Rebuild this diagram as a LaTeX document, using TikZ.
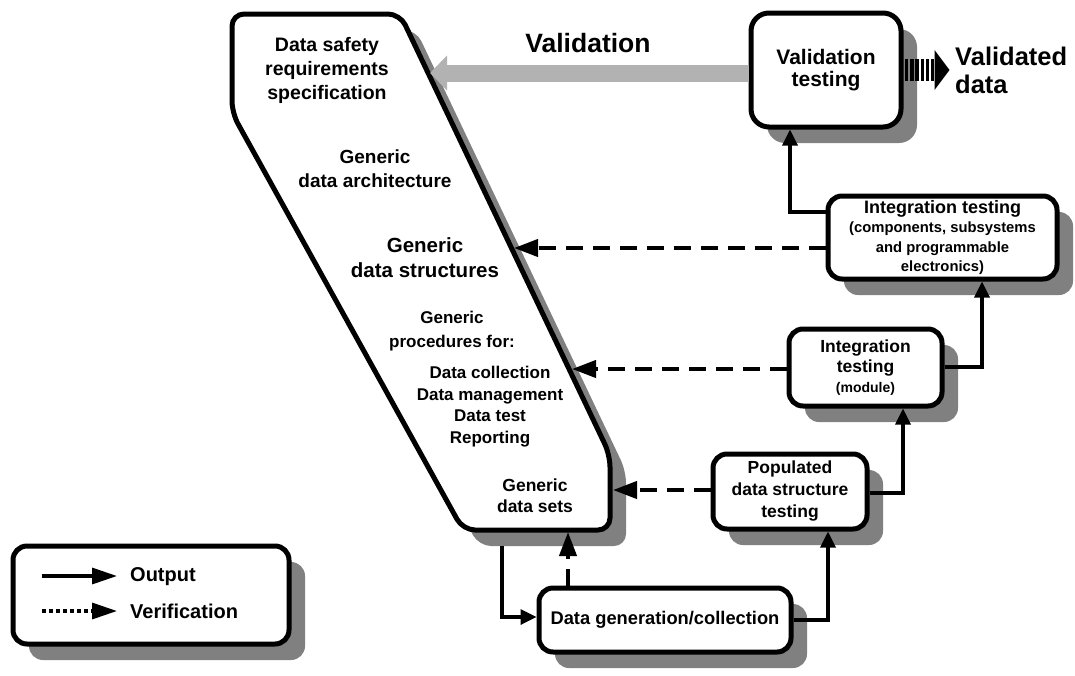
\documentclass[tikz,border=0pt]{standalone}
\usepackage{fontspec}
\setmainfont{Liberation Sans}
\usetikzlibrary{arrows.meta,shadows,calc}
\definecolor{shd}{RGB}{128,128,128}
\definecolor{valgray}{RGB}{178,178,178}
\newcommand{\myfs}[2]{\fontsize{#1}{#2}\selectfont\bfseries}
\begin{document}
\begin{tikzpicture}[x=1pt,y=-1pt,
 box/.style={draw,line width=5pt,fill=white,rounded corners=14pt,align=center,inner sep=0pt,
   drop shadow={shadow xshift=16pt,shadow yshift=-16pt,fill=shd,opacity=1,draw=none}},
 txt/.style={align=center,inner sep=0pt},
 outarrow/.style={line width=3.3pt,-{Triangle[length=16pt,width=15pt]}},
 verarrow/.style={line width=4pt,dash pattern=on 17pt off 10pt,-{Triangle[length=24pt,width=17pt]}},
 legarrow/.style={line width=3.3pt,-{Triangle[length=25pt,width=16pt]}},
]
\useasboundingbox (0,0) rectangle (1075,675);

% main specification shape
\fill[shd,rounded corners=12pt,shift={(16,16)}] (316,14) -- (400,14) -- (610,455) -- (610,530) -- (463,530) -- (232,113) -- (232,14) -- cycle;
\draw[line width=5pt,fill=white,rounded corners=12pt] (316,14) -- (400,14) -- (610,455) -- (610,530) -- (463,530) -- (232,113) -- (232,14) -- cycle;

\node[txt,font=\myfs{19.5}{24}] (t1) at (327,70) {Data safety\\requirements\\specification};
\node[txt,font=\myfs{19}{24}] (t2) at (375,168.5) {Generic\\data architecture};
\node[txt,font=\myfs{20.5}{25}] (t3) at (425,258) {Generic\\data structures};
\node[txt,font=\myfs{17}{24}] (t4) at (452,331) {Generic\\procedures for:};
\node[txt,font=\myfs{17}{21.7}] (t5) at (490,406.5) {Data collection\\Data management\\Data test\\Reporting};
\node[txt,font=\myfs{17.5}{21}] (t6) at (535,496) {Generic\\data sets};

% points on the specification shape
\coordinate (vtip) at (430,73);
\coordinate (e1) at (514,248);
\coordinate (e2) at (572,369);
\coordinate (e3) at (613,490);
\coordinate (pb) at (502,546);
\coordinate (pb2) at (568,532);

% boxes
\node[box,rounded corners=18pt,minimum width=150pt,minimum height=114pt,font=\myfs{21}{22}] (vt) at (826,70) {Validation\\testing};
\node[box,minimum width=229pt,minimum height=83pt,font=\myfs{14.8}{19.5}] (ic) at (942.5,237.5) {{\myfs{18}{19.5}Integration testing}\\(components, subsystems\\and programmable\\electronics)};
\node[box,minimum width=153pt,minimum height=77pt,font=\myfs{17.5}{20}] (im) at (865.5,367.5) {Integration\\testing\\{\myfs{14}{20}(module)}};
\node[box,minimum width=154pt,minimum height=75pt,font=\myfs{17.5}{22}] (pd) at (790,491.5) {Populated\\data structure\\testing};
\node[box,minimum width=252pt,minimum height=64pt,font=\myfs{18.3}{22}] (dg) at (665,620) {Data generation/collection};

% validation arrow
\draw[valgray,line width=17pt,-{Triangle[length=17pt,width=34pt]}] ($(vt.west)+(0,3)$) -- (vtip);
\node[txt,font=\myfs{26.5}{28}] (vl) at (588,43) {Validation};

% validated data output
\foreach \i in {0,...,5} \fill ($(vt.east)+(1.5+\i*5.2,-11)$) rectangle ++(3.4,22);
\fill ($(vt.east)+(31,-20)$) -- ($(vt.east)+(46,0)$) -- ($(vt.east)+(31,20)$) -- cycle;
\node[txt,align=left,anchor=west,font=\myfs{25.5}{28}] (vd) at (955,70) {Validated\\data};

% outputs
\draw[outarrow] ($(ic.west)+(0,-25.5)$) -| ($(vt.south)+(-36,0)$);
\draw[outarrow] ($(im.east)+(0,-0.5)$) -| ($(ic.south)+(39.5,0)$);
\draw[outarrow] ($(pd.east)+(0,1.5)$) -| ($(im.south)+(37.5,0)$);
\draw[outarrow] (dg.east) -| ($(pd.south)+(38,0)$);
\draw[outarrow] (pb) |- ($(dg.west)+(0,-3)$);

% verifications
\draw[verarrow] ($(ic.west)+(0,10.5)$) -- (e1);
\draw[verarrow] ($(im.west)+(0,1.5)$) -- (e2);
\draw[verarrow] ($(pd.west)+(0,-1.5)$) -- (e3);
\draw[verarrow] ($(dg.north)+(-97,0)$) -- (pb2);

% legend
\node[box,minimum width=276pt,minimum height=98pt] (lg) at (151,595) {};
\coordinate (l1a) at (42,576);
\coordinate (l1b) at (117,576);
\coordinate (l2a) at (42,611);
\coordinate (l2b) at (117,611);
\draw[legarrow] (l1a) -- (l1b);
\draw[legarrow,dash pattern=on 4pt off 3pt] (l2a) -- (l2b);
\node[txt,anchor=base west,font=\myfs{20}{24}] (lo) at (130,581) {Output};
\node[txt,anchor=base west,font=\myfs{20}{24}] (lv) at (130,618) {Verification};
\end{tikzpicture}
\end{document}
